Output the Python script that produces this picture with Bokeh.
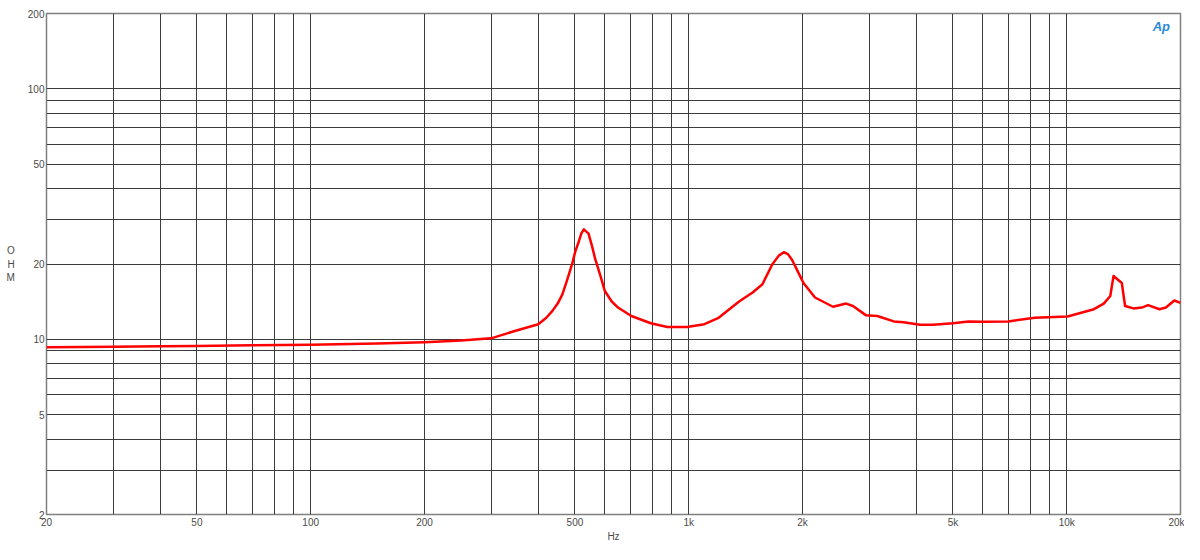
from bokeh.plotting import figure
from bokeh.models import FixedTicker, Label, CustomJSTickFormatter
from bokeh.embed import file_html
from bokeh.resources import INLINE

freq = [20, 25, 30, 40, 50, 70, 100, 150, 200, 250, 300, 343, 400, 420, 436, 450, 463,
        477, 492, 501, 512, 520, 528, 535, 543, 554, 565, 583, 600, 625, 650, 705, 794,
        878, 990, 1100, 1200, 1362, 1476, 1567, 1663, 1731, 1785, 1830, 1876, 1933,
        2012, 2158, 2408, 2609, 2720, 2941, 3155, 3487, 3702, 4091, 4432, 5000, 5500,
        6000, 7000, 8234, 10055, 11800, 12530, 13040, 13300, 13990, 14270, 15000,
        15800, 16410, 17600, 18300, 19260, 20000]
ohm = [9.3, 9.32, 9.35, 9.38, 9.42, 9.47, 9.52, 9.62, 9.75, 9.9, 10.1, 10.75, 11.5,
       12.2, 13.0, 13.9, 15.1, 17.3, 20.1, 22.4, 24.6, 26.5, 27.5, 27.0, 26.5, 23.8,
       21.1, 18.1, 15.6, 14.2, 13.4, 12.4, 11.6, 11.2, 11.2, 11.5, 12.2, 14.2, 15.4,
       16.6, 19.9, 21.6, 22.3, 21.9, 20.8, 19.0, 16.8, 14.7, 13.5, 13.9, 13.6, 12.5,
       12.4, 11.8, 11.7, 11.45, 11.45, 11.6, 11.8, 11.75, 11.8, 12.2, 12.35, 13.2,
       13.9, 14.9, 17.9, 16.8, 13.6, 13.3, 13.4, 13.7, 13.2, 13.4, 14.3, 14.0]

x_labeled = [20, 50, 100, 200, 500, 1000, 2000, 5000, 10000, 20000]
x_grid = [20, 30, 40, 50, 60, 70, 80, 90, 100, 200, 300, 400, 500, 600, 700, 800, 900,
          1000, 2000, 3000, 4000, 5000, 6000, 7000, 8000, 9000, 10000, 20000]
y_labeled = [2, 5, 10, 20, 50, 100, 200]
y_grid = [2, 3, 4, 5, 6, 7, 8, 9, 10, 20, 30, 40, 50, 60, 70, 80, 90, 100, 200]

p = figure(width=1184, height=544, x_axis_type="log", y_axis_type="log",
           x_range=(20, 20000), y_range=(2, 200),
           output_backend="svg", toolbar_location=None,
           min_border_left=46, min_border_right=4, min_border_top=13, min_border_bottom=20)

p.line(freq, ohm, line_color="#ff0000", line_width=2.5, line_join="round")

p.xgrid.ticker = FixedTicker(ticks=x_grid)
p.ygrid.ticker = FixedTicker(ticks=y_grid)
for g in (p.xgrid, p.ygrid):
    g.grid_line_color = "#3c3c3c"
    g.grid_line_width = 1
    g.grid_line_alpha = 1.0

p.xaxis.ticker = FixedTicker(ticks=x_labeled)
p.yaxis.ticker = FixedTicker(ticks=y_labeled)
p.xaxis.formatter = CustomJSTickFormatter(code="return tick >= 1000 ? (tick/1000) + 'k' : String(tick);")
p.yaxis.formatter = CustomJSTickFormatter(code="return String(tick);")

for ax in (p.xaxis, p.yaxis):
    ax.axis_line_color = None
    ax.major_tick_line_color = None
    ax.minor_tick_line_color = None
    ax.major_tick_out = 0
    ax.major_tick_in = 0
    ax.minor_tick_out = 0
    ax.minor_tick_in = 0
    ax.major_label_text_font = "Liberation Sans"
    ax.major_label_text_font_size = "10px"
    ax.major_label_text_color = "#4a4a4a"
    ax.major_label_standoff = 2
    ax.axis_label_text_font = "Liberation Sans"
    ax.axis_label_text_font_size = "10px"
    ax.axis_label_text_font_style = "normal"
    ax.axis_label_text_color = "#4a4a4a"

p.xaxis.axis_label = "Hz"
p.xaxis.axis_label_standoff = 0
p.yaxis.axis_label = "O\nH\nM"
p.yaxis.axis_label_orientation = "horizontal"
p.yaxis.axis_label_standoff = 10

p.outline_line_color = "#808080"
p.outline_line_width = 1.5

p.add_layout(Label(x=17800, y=190, text="Ap", text_color="#2a8ad4",
                   text_font="Liberation Sans", text_font_size="13px",
                   text_font_style="bold italic", text_align="center",
                   text_baseline="top"))

open("out.html", "w").write(file_html(p, INLINE))
